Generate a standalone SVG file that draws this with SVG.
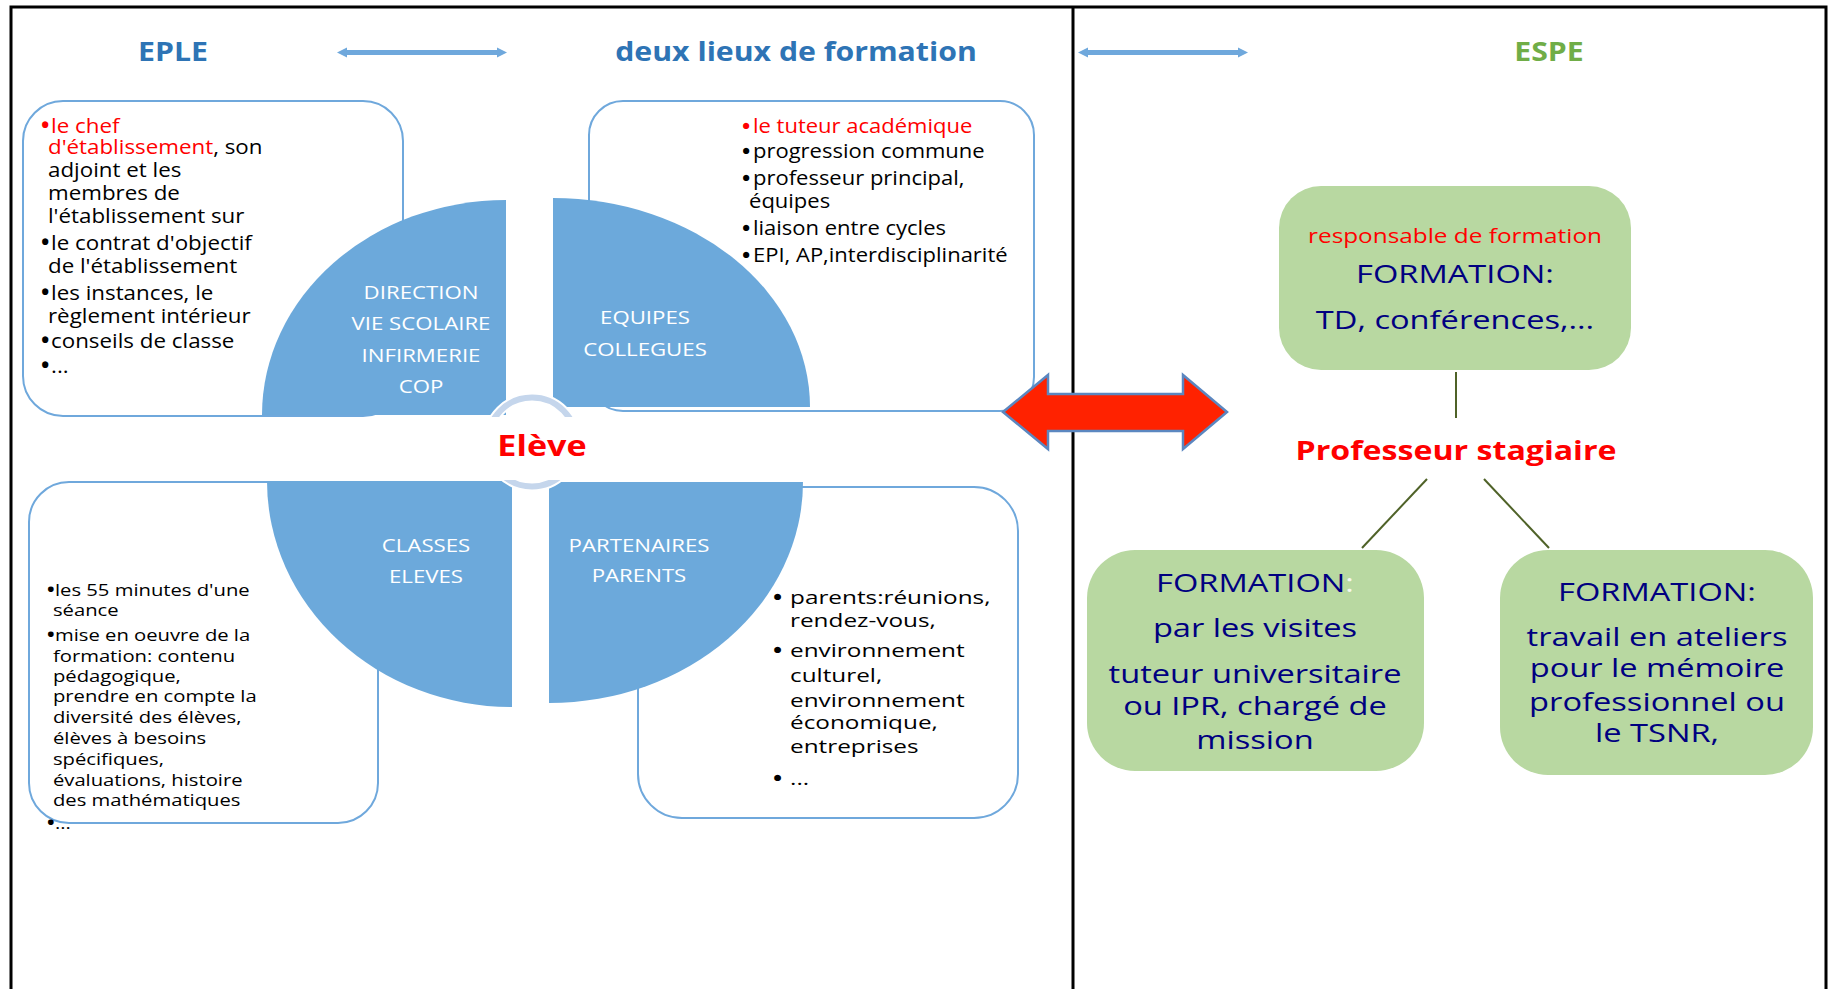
<svg xmlns="http://www.w3.org/2000/svg" width="1829" height="989" viewBox="0 0 1829 989">
<defs>
<style>
text{font-family:"Open Sans","DejaVu Sans",sans-serif;}
.bx{fill:#ffffff;stroke:#6FA8DC;stroke-width:2;}
.sec{fill:#6CA9DB;}
.gb{fill:#B8D8A1;}
.lbl{fill:#ffffff;font-size:19px;text-anchor:middle;}
.ttl{font-size:27px;font-weight:bold;text-anchor:middle;}
.blk{fill:#000000;}
.red{fill:#FF0000;}
.bu{font-weight:bold;}
.navy{fill:#000080;font-size:25.5px;text-anchor:middle;}
.thin{stroke:#6FA8DC;stroke-width:5;fill:none;}
.conn{stroke:#4F6228;stroke-width:2;fill:none;}
</style>
<marker id="ah" viewBox="0 0 10 10" refX="0" refY="5" markerWidth="2" markerHeight="2.4" orient="auto-start-reverse" markerUnits="strokeWidth">
<path d="M0,0 L10,5 L0,10 z" fill="#6FA8DC"/>
</marker>
</defs>
<rect width="1829" height="989" fill="#ffffff"/>

<g id="frame" fill="none" stroke="#000000" stroke-width="3">
<path d="M11,989 V7 H1826 V989"/>
<line x1="1073" y1="7" x2="1073" y2="989"/>
</g>

<g id="titles">
<g transform="translate(173 0) scale(1.12 1)"><text class="ttl" x="0" y="61" fill="#2E74B5">EPLE</text></g>
<g transform="translate(796 0) scale(1.12 1)"><text class="ttl" x="0" y="61" fill="#2E74B5">deux lieux de formation</text></g>
<g transform="translate(1549 0) scale(1.12 1)"><text class="ttl" x="0" y="61" fill="#70AD47">ESPE</text></g>
</g>

<g id="box-tl">
<rect class="bx" x="23" y="101" width="380" height="315" rx="40"/>
</g>
<g id="box-tr">
<rect class="bx" x="589" y="101" width="445" height="310" rx="34"/>
</g>
<g id="box-bl">
<rect class="bx" x="29" y="482" width="349" height="341" rx="40"/>
</g>
<g id="box-br">
<rect class="bx" x="638" y="487" width="380" height="331" rx="44"/>
</g>

<g id="sector-direction">
<path class="sec" d="M506,415 L262,415 A244,215 0 0 1 506,200 Z"/>
<g transform="translate(421 0) scale(1.17 1)">
<text class="lbl"><tspan x="0" y="299">DIRECTION</tspan><tspan x="0" y="330">VIE SCOLAIRE</tspan><tspan x="0" y="362">INFIRMERIE</tspan><tspan x="0" y="393">COP</tspan></text>
</g>
</g>
<g id="sector-equipes">
<path class="sec" d="M553,407 L553,198 A257,209 0 0 1 810,407 Z"/>
<g transform="translate(645 0) scale(1.17 1)">
<text class="lbl"><tspan x="0" y="324">EQUIPES</tspan><tspan x="0" y="356">COLLEGUES</tspan></text>
</g>
</g>
<g id="sector-classes">
<path class="sec" d="M512,481 L267,481 A245,226 0 0 0 512,707 Z"/>
<g transform="translate(426 0) scale(1.17 1)">
<text class="lbl"><tspan x="0" y="552">CLASSES</tspan><tspan x="0" y="583">ELEVES</tspan></text>
</g>
</g>
<g id="sector-partenaires">
<path class="sec" d="M549,482 L803,482 A254,221 0 0 1 549,703 Z"/>
<g transform="translate(639 0) scale(1.17 1)">
<text class="lbl"><tspan x="0" y="552">PARTENAIRES</tspan><tspan x="0" y="582">PARENTS</tspan></text>
</g>
</g>

<g id="eleve">
<circle cx="532" cy="442" r="44.5" fill="none" stroke="#ffffff" stroke-width="10"/>
<circle cx="532" cy="442" r="44.5" fill="none" stroke="#C5D6EC" stroke-width="6"/>
<rect x="440" y="417" width="200" height="63" fill="#ffffff"/>
<g transform="translate(542 0) scale(1.22 1)"><text x="0" y="456" font-size="28" font-weight="bold" text-anchor="middle" fill="#FF0000">Elève</text></g>
</g>

<g id="text-tl" transform="translate(41 0) scale(1.09 1)">
<text font-size="20.5" class="blk">
<tspan x="0" y="133" class="red bu">•</tspan><tspan x="9.2" y="133" class="red">le chef</tspan>
<tspan x="6.4" y="154" class="red">d'établissement</tspan><tspan>, son</tspan>
<tspan x="6.4" y="177">adjoint et les</tspan>
<tspan x="6.4" y="200">membres de</tspan>
<tspan x="6.4" y="223">l'établissement sur</tspan>
<tspan x="0" y="250" class="bu">•</tspan><tspan x="9.2" y="250">le contrat d'objectif</tspan>
<tspan x="6.4" y="273">de l'établissement</tspan>
<tspan x="0" y="300" class="bu">•</tspan><tspan x="9.2" y="300">les instances, le</tspan>
<tspan x="6.4" y="323">règlement intérieur</tspan>
<tspan x="0" y="348" class="bu">•</tspan><tspan x="9.2" y="348">conseils de classe</tspan>
<tspan x="0" y="373" class="bu">•</tspan><tspan x="9.2" y="373">...</tspan>
</text>
</g>

<g id="text-tr" transform="translate(742 0) scale(1.10 1)">
<text font-size="20" class="blk">
<tspan x="0" y="133" class="red bu">•</tspan><tspan x="10" y="133" class="red">le tuteur académique</tspan>
<tspan x="0" y="158" class="bu">•</tspan><tspan x="10" y="158">progression commune</tspan>
<tspan x="0" y="185" class="bu">•</tspan><tspan x="10" y="185">professeur principal,</tspan>
<tspan x="6.4" y="208">équipes</tspan>
<tspan x="0" y="235" class="bu">•</tspan><tspan x="10" y="235">liaison entre cycles</tspan>
<tspan x="0" y="262" class="bu">•</tspan><tspan x="10" y="262">EPI, AP,interdisciplinarité</tspan>
</text>
</g>

<g id="text-bl" transform="translate(47 0) scale(1.19 1)">
<text font-size="17" class="blk">
<tspan x="0" y="596" class="bu">•</tspan><tspan x="6.7" y="596">les 55 minutes d'une</tspan>
<tspan x="5" y="616">séance</tspan>
<tspan x="0" y="641" class="bu">•</tspan><tspan x="6.7" y="641">mise en oeuvre de la</tspan>
<tspan x="5" y="662">formation: contenu</tspan>
<tspan x="5" y="682">pédagogique,</tspan>
<tspan x="5" y="702">prendre en compte la</tspan>
<tspan x="5" y="723">diversité des élèves,</tspan>
<tspan x="5" y="744">élèves à besoins</tspan>
<tspan x="5" y="765">spécifiques,</tspan>
<tspan x="5" y="786">évaluations, histoire</tspan>
<tspan x="5" y="806">des mathématiques</tspan>
<tspan x="0" y="829" class="bu">•</tspan><tspan x="6.7" y="829">...</tspan>
</text>
</g>

<g id="text-br" transform="translate(773 0) scale(1.28 1)">
<text font-size="19" class="blk">
<tspan x="0" y="604" class="bu">•</tspan><tspan x="13.3" y="604">parents:réunions,</tspan>
<tspan x="13.3" y="627">rendez-vous,</tspan>
<tspan x="0" y="657" class="bu">•</tspan><tspan x="13.3" y="657">environnement</tspan>
<tspan x="13.3" y="682">culturel,</tspan>
<tspan x="13.3" y="707">environnement</tspan>
<tspan x="13.3" y="729">économique,</tspan>
<tspan x="13.3" y="753">entreprises</tspan>
<tspan x="0" y="785" class="bu">•</tspan><tspan x="13.3" y="785">...</tspan>
</text>
</g>

<g id="connectors">
<line class="thin" x1="347" y1="52.5" x2="497" y2="52.5" marker-start="url(#ah)" marker-end="url(#ah)"/>
<line class="thin" x1="1088" y1="52.5" x2="1238" y2="52.5" marker-start="url(#ah)" marker-end="url(#ah)"/>
<polygon points="1003,412 1048,375 1048,394 1183,394 1183,375 1227,412 1183,449 1183,431 1048,431 1048,449" fill="#FF2200" stroke="#5B87C0" stroke-width="2.5" stroke-linejoin="miter"/>
<line class="conn" x1="1456" y1="372" x2="1456" y2="418"/>
<line class="conn" x1="1427" y1="479" x2="1362" y2="548"/>
<line class="conn" x1="1484" y1="479" x2="1549" y2="548"/>
</g>

<g id="espe-formation">
<rect class="gb" x="1279" y="186" width="352" height="184" rx="42"/>
<g transform="translate(1455 0) scale(1.2 1)"><text x="0" y="243" font-size="20.3" text-anchor="middle" fill="#FF0000">responsable de formation</text></g>
<g transform="translate(1455 0) scale(1.28 1)">
<text class="navy"><tspan x="0" y="283">FORMATION:</tspan><tspan x="0" y="329">TD, conférences,...</tspan></text>
</g>
</g>

<g id="professeur">
<g transform="translate(1456 0) scale(1.19 1)"><text x="0" y="460" font-size="27" font-weight="bold" text-anchor="middle" fill="#FF0000">Professeur stagiaire</text></g>
</g>

<g id="visites">
<rect class="gb" x="1087" y="550" width="337" height="221" rx="48"/>
<g transform="translate(1255 0) scale(1.28 1)">
<text class="navy"><tspan x="0" y="592">FORMATION<tspan fill="#F4F8F0">:</tspan></tspan><tspan x="0" y="637">par les visites</tspan><tspan x="0" y="683">tuteur universitaire</tspan><tspan x="0" y="715">ou IPR, chargé de</tspan><tspan x="0" y="749">mission</tspan></text>
</g>
</g>

<g id="ateliers">
<rect class="gb" x="1500" y="550" width="313" height="225" rx="48"/>
<g transform="translate(1657 0) scale(1.28 1)">
<text class="navy"><tspan x="0" y="601">FORMATION:</tspan><tspan x="0" y="646">travail en ateliers</tspan><tspan x="0" y="677">pour le mémoire</tspan><tspan x="0" y="711">professionnel ou</tspan><tspan x="0" y="742">le TSNR,</tspan></text>
</g>
</g>
</svg>
